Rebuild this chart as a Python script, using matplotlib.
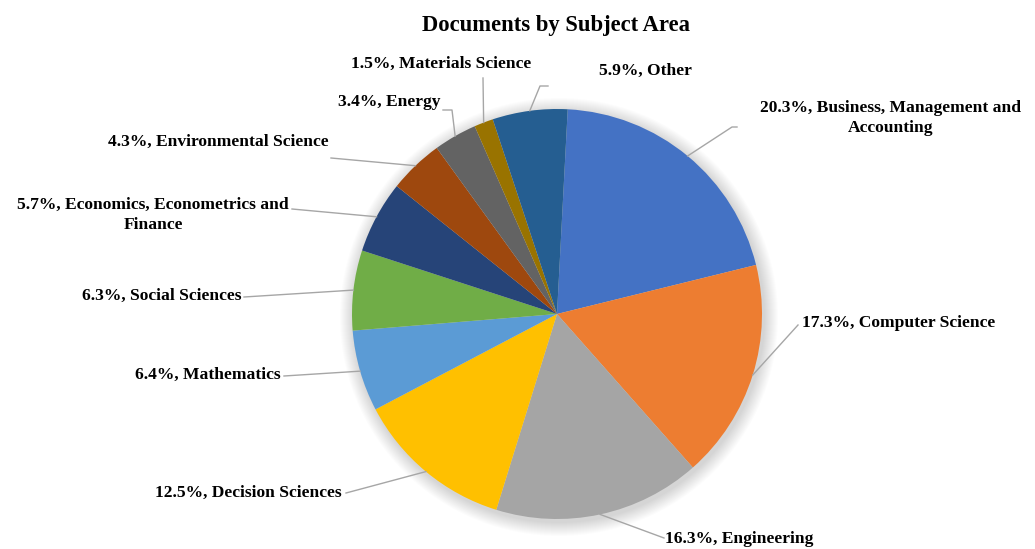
import matplotlib.pyplot as plt
import numpy as np

subjects = ["Business, Management and\nAccounting", "Computer Science", "Engineering",
            "Decision Sciences", "Mathematics", "Social Sciences",
            "Economics, Econometrics and\nFinance", "Environmental Science",
            "Energy", "Materials Science", "Other"]
shares = [20.3, 17.3, 16.3, 12.5, 6.4, 6.3, 5.7, 4.3, 3.4, 1.5, 5.9]
colors = ["#4472C4", "#ED7D31", "#A5A5A5", "#FFC000", "#5B9BD5", "#70AD47",
          "#264478", "#9E480E", "#636363", "#997300", "#255E91"]

W, H = 1035, 549
cx, cy, R = 557, H - 314, 205
start = 87

# label anchor (x, y, ha) and leader elbow / end, in pixels from top-left
label_pos = [(760, 118, 'left'), (802, 323, 'left'), (665, 539, 'left'),
             (342, 493, 'right'), (281, 375, 'right'), (242, 296, 'right'),
             (289, 215, 'right'), (329, 142, 'right'), (441, 102, 'right'),
             (441, 64, 'center'), (645, 71, 'center')]
elbows = [(732, 127), (798, 325), (664, 538), (346, 493), (284, 376), (244, 297),
          (292, 209), (331, 158), (452, 110), (483, 78), (540, 86)]
ends = [(737, 127), (798, 325), (664, 538), (346, 493), (284, 376), (244, 297),
        (292, 209), (331, 158), (443, 110), (483, 78), (548, 86)]

plt.rcParams['font.family'] = ['Liberation Serif', 'DejaVu Serif']

fig = plt.figure(figsize=(W / 100, H / 100), dpi=100)
ax = fig.add_axes([0, 0, 1, 1])

# soft shadow under the pie
for k in range(14):
    ax.add_patch(plt.Circle((cx + 2, cy - 3), R + 14 - k, color='black',
                            alpha=0.012, lw=0, zorder=0))

wedges, _ = ax.pie(shares, colors=colors, startangle=start, counterclock=False,
                   center=(cx, cy), radius=R, wedgeprops=dict(linewidth=0),
                   frame=True)
ax.set_xlim(0, W)
ax.set_ylim(0, H)
ax.set_aspect('equal')
ax.axis('off')

for w, name, val, lp, el, en in zip(wedges, subjects, shares, label_pos, elbows, ends):
    mid = np.deg2rad((w.theta1 + w.theta2) / 2)
    x0 = cx + R * np.cos(mid)
    y0 = cy + R * np.sin(mid)
    ax.plot([x0, el[0], en[0]], [y0, H - el[1], H - en[1]], color='#A6A6A6', lw=1,
            zorder=3)
    ax.text(lp[0], H - lp[1], f"{val}%, {name}", ha=lp[2], va='center',
            multialignment='center', fontsize=12.6, fontweight='bold',
            color='black', linespacing=1.3)

ax.text(556, H - 25, "Documents by Subject Area", ha='center', va='center',
        fontsize=16.3, fontweight='bold', color='black')

fig.savefig("out.png", dpi=100, facecolor='white')
